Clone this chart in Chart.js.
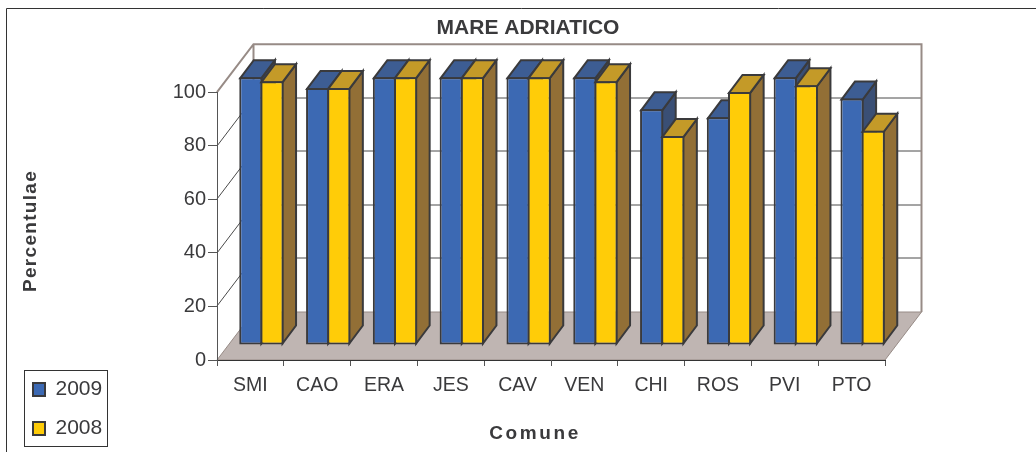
<!DOCTYPE html>
<html><head><meta charset="utf-8">
<style>html,body{margin:0;padding:0;background:#fff;overflow:hidden}canvas{display:block}</style>
<script src="https://cdn.jsdelivr.net/npm/chart.js@4"></script>
</head><body><canvas id="c" width="1036" height="452"></canvas>
<script>
const categories = ['SMI','CAO','ERA','JES','CAV','VEN','CHI','ROS','PVI','PTO'];
const values2009 = [100,96,100,100,100,100,88,85,100,92];
const values2008 = [98.5,96,100,100,100,98.5,78,94.5,97,80];
const yTicks = [0,20,40,60,80,100];
const titleText = 'MARE ADRIATICO';
const yTitle = 'Percentulae';
const xTitle = 'Comune';

const FONT = "'Liberation Sans', Arial, sans-serif";
const TEXT = '#3a3a3c', EDGE = '#3a3a3c', WALL = '#978b86', GRID = '#4a4a4a';
const WALL_DX = 36.5, WALL_DY = -48, BAR_TX = 11, BAR_TY = -15, BAR_DX = 13.5, BAR_DY = -18;
const shade = {
  '2009': {side:'#3a4f75', top:'#3d5d93'},
  '2008': {side:'#926f36', top:'#c49a28'}
};
function poly(ctx, pts, fill, stroke, lw){
  ctx.beginPath();
  pts.forEach((p,i)=> i? ctx.lineTo(p[0],p[1]) : ctx.moveTo(p[0],p[1]));
  ctx.closePath();
  if(fill){ctx.fillStyle=fill;ctx.fill();}
  if(stroke){ctx.strokeStyle=stroke;ctx.lineWidth=lw;ctx.lineJoin='miter';ctx.stroke();}
}
function drawSolid(chart, meta, label){
  const ctx = chart.ctx, s = shade[label];
  ctx.save();
  ctx.translate(BAR_TX,BAR_TY);
  meta.data.forEach(b=>{
    const r = b.x+b.width/2-1, l = b.x-b.width/2+1, t = b.y+1, bt = b.base-1;
    poly(ctx,[[r,t],[r+BAR_DX,t+BAR_DY],[r+BAR_DX,bt+BAR_DY],[r,bt]],s.side,EDGE,2);
    poly(ctx,[[l,t],[l+BAR_DX,t+BAR_DY],[r+BAR_DX,t+BAR_DY],[r,t]],s.top,EDGE,2);
  });
  meta.controller.draw();
  ctx.restore();
}
const scene = {
  id:'scene',
  afterLayout(chart){
    chart.titleBlock.left = 0; chart.titleBlock.right = 1056;
    const l = chart.legend;
    const w = l.width, h = l.height;
    l.left = 15; l.top = 361; l.right = l.left + w; l.bottom = l.top + h;
    if(l.adjustHitBoxes) l.adjustHitBoxes();
  },
  beforeDraw(chart){
    const ctx = chart.ctx, x = chart.scales.x, y = chart.scales.y;
    const L = x.left, R = x.right, Y0 = y.getPixelForValue(0), Y100 = y.getPixelForValue(100);
    ctx.save();
    ctx.fillStyle='#fff';ctx.fillRect(0,0,chart.width,chart.height);
    ctx.strokeStyle='#333';ctx.lineWidth=1;
    ctx.beginPath();ctx.moveTo(6.5,chart.height);ctx.lineTo(6.5,8.5);ctx.lineTo(chart.width,8.5);ctx.stroke();
    ctx.strokeStyle=GRID;ctx.lineWidth=1;
    yTicks.forEach(v=>{
      if(v===0||v===100) return;
      const py = Math.round(y.getPixelForValue(v));
      ctx.beginPath();ctx.moveTo(L,py);ctx.lineTo(L+WALL_DX,py+WALL_DY);ctx.lineTo(R+WALL_DX,py+WALL_DY);ctx.stroke();
    });
    poly(ctx,[[L,Y0],[R,Y0],[R+WALL_DX,Y0+WALL_DY],[L+WALL_DX,Y0+WALL_DY]],'#bfb5b2',WALL,1);
    ctx.strokeStyle=WALL;ctx.lineWidth=2;ctx.lineJoin='miter';
    ctx.beginPath();
    ctx.moveTo(L,Y100);ctx.lineTo(L+WALL_DX,Y100+WALL_DY);ctx.lineTo(R+WALL_DX,Y100+WALL_DY);ctx.lineTo(R+WALL_DX,Y0+WALL_DY);
    ctx.moveTo(L+WALL_DX,Y100+WALL_DY);ctx.lineTo(L+WALL_DX,Y0+WALL_DY);
    ctx.stroke();
    ctx.restore();
  },
  // The library paints the last dataset first; here the 2009 solids go down first,
  // so the 2008 solids can overlap them as in the reference.
  beforeDatasetsDraw(chart){
    [0,1].forEach(i=>drawSolid(chart,chart.getDatasetMeta(i),chart.data.datasets[i].label));
  },
  beforeDatasetDraw(){ return false; },
  afterDraw(chart){
    const ctx = chart.ctx;
    ctx.save();
    ctx.fillStyle=TEXT;
    ctx.font='bold 19px '+FONT;
    ctx.textAlign='center';ctx.textBaseline='middle';
    ctx.letterSpacing='2.6px';
    ctx.fillText(xTitle,535,434);
    ctx.letterSpacing='1.3px';
    ctx.translate(31,231);ctx.rotate(-Math.PI/2);
    ctx.fillText(yTitle,0,0);
    ctx.restore();
    ctx.save();
    ctx.strokeStyle='#333';ctx.lineWidth=1;
    ctx.strokeRect(24.5,370.5,83,76);
    ctx.restore();
  }
};
new Chart(document.getElementById('c'),{
  type:'bar',
  data:{labels:categories,datasets:[
    {label:'2009',data:values2009,backgroundColor:'#3c69b3',borderColor:EDGE,borderWidth:2,borderSkipped:false},
    {label:'2008',data:values2008,backgroundColor:'#ffcc08',borderColor:EDGE,borderWidth:2,borderSkipped:false}
  ]},
  options:{
    responsive:false,animation:false,
    layout:{autoPadding:false,padding:{left:0,top:0,right:151,bottom:0}},
    datasets:{bar:{categoryPercentage:0.633,barPercentage:1.095}},
    plugins:{
      title:{display:true,text:titleText,color:TEXT,font:{family:FONT,size:21,weight:'bold'},padding:{top:16,bottom:51}},
      legend:{position:'chartArea',align:'start',
        labels:{boxWidth:12,boxHeight:13,padding:18,color:TEXT,font:{family:FONT,size:21}}},
      tooltip:{enabled:false}
    },
    scales:{
      x:{
        afterFit(s){s.height=92;},
        grid:{drawOnChartArea:false,drawTicks:true,tickLength:6,offset:true,color:'#555'},
        border:{color:'#333',width:1},
        ticks:{color:TEXT,font:{family:FONT,size:19.5},padding:8,autoSkip:false,maxRotation:0}
      },
      y:{
        min:0,max:100,
        afterFit(s){s.width=217;},
        afterBuildTicks(s){s.ticks=yTicks.map(v=>({value:v}));},
        grid:{drawOnChartArea:false,drawTicks:true,tickLength:9,color:'#555'},
        border:{color:'#555',width:1},
        ticks:{color:TEXT,font:{family:FONT,size:20},padding:2}
      }
    }
  },
  plugins:[scene]
});
</script></body></html>
